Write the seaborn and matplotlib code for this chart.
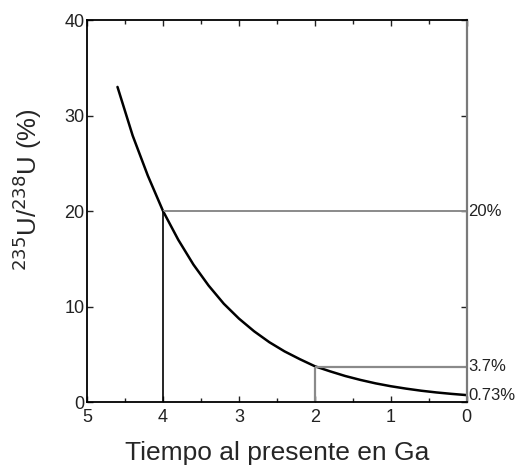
import matplotlib
matplotlib.use("Agg")
import matplotlib.pyplot as plt
import seaborn as sns
import pandas as pd

# 235U/238U abundance ratio (%) versus time before present (Ga)
time_ga = [0.0, 0.2, 0.4, 0.6, 0.8, 1.0, 1.2, 1.4, 1.6, 1.8, 2.0, 2.2,
           2.4, 2.6, 2.8, 3.0, 3.2, 3.4, 3.6, 3.8, 4.0, 4.2, 4.4, 4.6]
ratio_pct = [0.73, 0.86, 1.01, 1.19, 1.41, 1.66, 1.96, 2.32, 2.73, 3.22,
             3.75, 4.50, 5.31, 6.27, 7.41, 8.74, 10.3, 12.2, 14.4, 17.0,
             20.0, 23.7, 27.9, 33.0]

# Reference markers: (time, ratio)
marker_times = [4.0, 2.0]
marker_ratios = [20.0, 3.7]
right_labels = ["20%", "3.7%", "0.73%"]
right_label_values = [20.0, 3.7, 0.73]

x_ticks = [5, 4, 3, 2, 1, 0]
y_ticks = [0, 10, 20, 30, 40]

sns.set_style("ticks")
plt.rcParams["font.family"] = ["Liberation Sans", "DejaVu Sans"]

fig = plt.figure(figsize=(5.28, 4.67), dpi=100)
ax = fig.add_axes([0.165, 0.139, 0.719, 0.818])

df = pd.DataFrame({"t": time_ga, "r": ratio_pct})
sns.lineplot(data=df, x="t", y="r", ax=ax, color="black", linewidth=1.8)

# guide lines
ax.hlines(marker_ratios[0], 0, marker_times[0], color="#8a8a8a", linewidth=1.4)
ax.vlines(marker_times[0], 0, marker_ratios[0], color="black", linewidth=1.2)
ax.hlines(marker_ratios[1], 0, marker_times[1], color="#8a8a8a", linewidth=1.6)
ax.vlines(marker_times[1], 0, marker_ratios[1], color="#8a8a8a", linewidth=1.6)

ax.set_xlim(5, 0)
ax.set_ylim(0, 40)
ax.set_xticks(x_ticks)
ax.set_xticklabels([str(v) for v in x_ticks])
ax.set_yticks(y_ticks)
ax.set_yticklabels([str(v) for v in y_ticks])
ax.set_xticks([4.5, 3.5, 2.5, 1.5, 0.5], minor=True)

ax.tick_params(axis="both", which="both", direction="in", top=True, right=True,
               labelsize=13, colors="#222222", length=4, width=1)
ax.tick_params(axis="both", which="minor", length=3)
ax.tick_params(axis="x", pad=5)
ax.tick_params(axis="y", pad=2)

for s in ["left", "bottom", "top"]:
    ax.spines[s].set_color("black")
    ax.spines[s].set_linewidth(1.3)
ax.spines["right"].set_color("#7a7a7a")
ax.spines["right"].set_linewidth(1.6)

for lab, val in zip(right_labels, right_label_values):
    ax.text(1.003, val, lab, transform=ax.get_yaxis_transform(),
            ha="left", va="center", fontsize=12, color="#222222")

ax.set_xlabel("Tiempo al presente en Ga", fontsize=19, labelpad=11)
ax.set_ylabel("$^{235}$U/$^{238}$U (%)", fontsize=18.5)
ax.yaxis.set_label_coords(-0.113, 0.555)

fig.savefig("out.png", dpi=100)
